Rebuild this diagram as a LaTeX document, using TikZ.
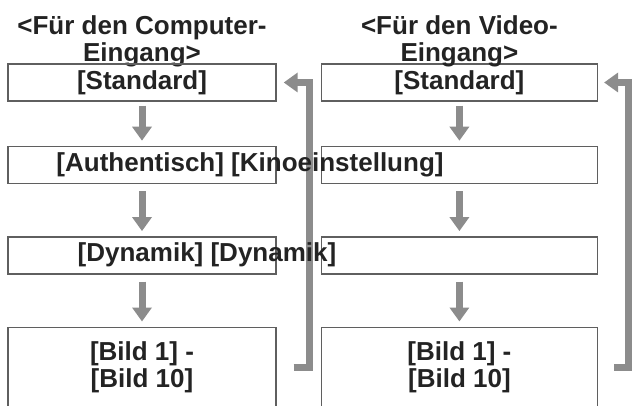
\documentclass[tikz,border=0pt]{standalone}
\usepackage{fontspec}
\setmainfont{Liberation Sans}
\definecolor{framegray}{RGB}{95,95,95}
\definecolor{flowgray}{RGB}{140,140,140}
\definecolor{textdark}{RGB}{35,35,35}
\usetikzlibrary{arrows.meta,positioning,calc}

\begin{document}
\begin{tikzpicture}[x=1pt, y=-1pt,
    labelfont/.style={font=\fontsize{26}{27.5}\selectfont\bfseries, text=textdark},
    modebox/.style={draw=framegray, line width=1.4pt, inner sep=0pt, minimum height=37pt, labelfont, align=center},
    flowarrow/.style={draw=flowgray, line width=7pt, -{Triangle[width=19pt,length=14pt]}}]
    \useasboundingbox (0,0) rectangle (634,406);
    % computer input column
    \node[labelfont, align=center, anchor=base] (lhead) at (142,62) {<Für den Computer-\\Eingang>};
    \node[modebox, minimum width=268pt] (lbox1) at (142,82.5) {[Standard]};
    \node[modebox, minimum width=268pt, below=44pt of lbox1] (lbox2) {};
    \node[modebox, minimum width=268pt, below=52pt of lbox2] (lbox3) {};
    \node[modebox, minimum width=268pt, minimum height=80pt, below=52pt of lbox3] (lbox4) {[Bild 1] -\\{}[Bild 10]};
    % video input column
    \node[modebox, minimum width=276pt, right=44pt of lbox1] (rbox1) {[Standard]};
    \node[modebox, minimum width=276pt, right=44pt of lbox2] (rbox2) {};
    \node[modebox, minimum width=276pt, right=44pt of lbox3] (rbox3) {};
    \node[modebox, minimum width=276pt, minimum height=80pt, right=44pt of lbox4] (rbox4) {[Bild 1] -\\{}[Bild 10]};
    \node[labelfont, align=center, anchor=base] (rhead) at (rbox1.center |- lhead.base) {<Für den Video-\\Eingang>};
    % arrows
    \foreach \col in {l,r} {
      \draw[flowarrow, shorten <=4pt, shorten >=5pt] (\col box1) -- (\col box2);
      \draw[flowarrow, shorten <=7pt, shorten >=5pt] (\col box2) -- (\col box3);
      \draw[flowarrow, shorten <=7pt, shorten >=5pt] (\col box3) -- (\col box4);
    }
    \draw[flowarrow] ([xshift=17pt]lbox4.east) -- ++(16,0) |- ([xshift=7pt]lbox1.east);
    \draw[flowarrow] ([xshift=16pt]rbox4.east) -- ++(14,0) |- ([xshift=6pt]rbox1.east);
    % texts running over the frames
    \node[labelfont] (authtext) at (250,165) {[Authentisch] [Kinoeinstellung]};
    \node[labelfont] (dyntext) at (207,255) {[Dynamik] [Dynamik]};
\end{tikzpicture}
\end{document}
